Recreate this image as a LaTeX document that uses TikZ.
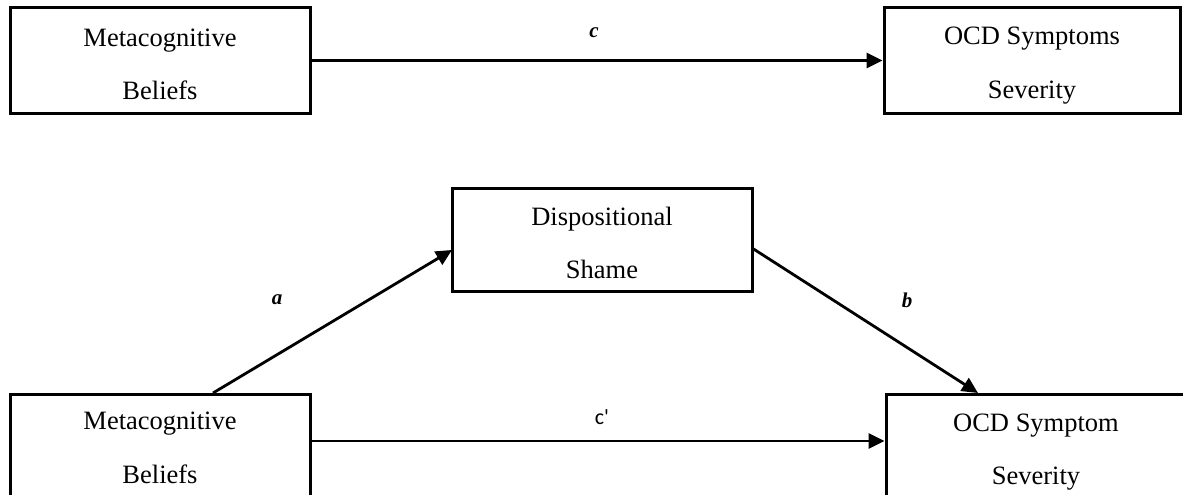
\documentclass[tikz,border=0pt]{standalone}
\usepackage{fontspec}
\setmainfont{Liberation Serif}
\newfontfamily\labelsans{Carlito}
\usetikzlibrary{arrows.meta}
\begin{document}
\begin{tikzpicture}[x=1pt,y=-1pt,
  varbox/.style={draw=black,line width=3pt,fill=white,minimum width=300pt,
    minimum height=105pt,inner sep=0pt},
  vartext/.style={align=center,inner sep=0pt,
    font=\fontsize{26.5}{53.5}\selectfont},
  path/.style={line width=2.8pt,-{Triangle[length=16pt,width=15pt]}},
  coef/.style={font=\fontsize{21}{24}\selectfont\itshape\bfseries,inner sep=0pt},
  coefsans/.style={font=\fontsize{22}{24}\labelsans,inner sep=0pt}]
\useasboundingbox (0,0) rectangle (1183,495);
\clip (0,0) rectangle (1183,495);
\fill[white] (0,0) rectangle (1183,495);

% total effect
\node[varbox] (mb1) at (160,60.5) {};
\node[vartext] (mb1t) at ([yshift=-4pt]mb1.center) {Metacognitive\\Beliefs};
\node[varbox,minimum width=296pt] (ocd1) at (1032,60.5) {};
\node[vartext] (ocd1t) at ([yshift=-5pt]ocd1.center) {OCD Symptoms\\Severity};
\draw[path] (mb1.east) -- (ocd1.west);
\node[coef] (c) at (594,33) {c};

% mediated model
\node[varbox,minimum height=103pt] (ds) at (602,239.5) {};
\node[vartext] (dst) at ([yshift=-3.5pt]ds.center) {Dispositional\\Shame};
\node[varbox,anchor=north] (mb2) at (160,393) {};
\node[vartext] (mb2t) at ([yshift=-1pt]mb2.center) {Metacognitive\\Beliefs};
\node[varbox,anchor=north] (ocd2) at (1036,393) {};
\node[vartext] (ocd2t) at ([yshift=-5pt]ocd2.center) {OCD Symptom\\Severity};

\coordinate (astart) at (213,393);
\coordinate (aend) at (452,250);
\coordinate (bstart) at (752,248);
\coordinate (bend) at (978,393);
\draw[path] (astart) -- (aend);
\draw[path] (bstart) -- (bend);
\draw[path] (mb2.east |- 0,441) -- (ocd2.west |- 0,441);

\node[coef] (a) at (277,300) {a};
\node[coef] (b) at (907,300) {b};
\node[coefsans] (cp) at (602,417) {c'};
\end{tikzpicture}
\end{document}
